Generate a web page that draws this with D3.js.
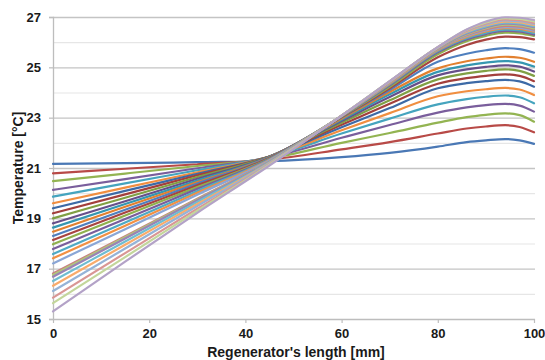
<!DOCTYPE html>
<html>
<head>
<meta charset="utf-8">
<script src="https://cdn.jsdelivr.net/npm/d3@7"></script>
<style>
  html, body { margin: 0; padding: 0; background: #ffffff; }
  svg { display: block; }
  text { font-family: "Liberation Sans", Arial, sans-serif; }
</style>
</head>
<body>
<svg id="chart" width="545" height="360"></svg>
<script>
// ---- data ----
const positions = [0, 15, 30, 45, 60, 70, 80, 86, 90, 94, 97, 100];

const s1  = [21.16, 21.19, 21.23, 21.27, 21.43, 21.60, 21.85, 22.03, 22.10, 22.15, 22.10, 21.96];
const s2  = [20.79, 20.97, 21.15, 21.33, 21.74, 22.03, 22.37, 22.57, 22.65, 22.70, 22.63, 22.42];
const s3  = [20.48, 20.78, 21.08, 21.38, 22.00, 22.39, 22.80, 23.02, 23.11, 23.17, 23.10, 22.84];
const s4  = [20.13, 20.56, 20.99, 21.42, 22.20, 22.71, 23.20, 23.41, 23.50, 23.55, 23.48, 23.24];
const s5  = [19.86, 20.39, 20.91, 21.44, 22.37, 22.96, 23.53, 23.74, 23.83, 23.88, 23.81, 23.57];
const s6  = [19.60, 20.22, 20.83, 21.45, 22.50, 23.18, 23.85, 24.05, 24.13, 24.18, 24.12, 23.90];
const s7  = [19.40, 20.09, 20.77, 21.46, 22.62, 23.38, 24.17, 24.37, 24.45, 24.50, 24.44, 24.23];
const s8  = [19.20, 19.95, 20.71, 21.46, 22.72, 23.55, 24.35, 24.57, 24.66, 24.72, 24.66, 24.45];
const s9  = [19.00, 19.82, 20.64, 21.46, 22.80, 23.69, 24.52, 24.76, 24.86, 24.92, 24.86, 24.66];
const s10 = [18.80, 19.68, 20.57, 21.45, 22.87, 23.82, 24.68, 24.92, 25.02, 25.08, 25.03, 24.83];
const s11 = [18.63, 19.57, 20.50, 21.44, 22.92, 23.93, 24.82, 25.08, 25.19, 25.25, 25.20, 25.03];
const s12 = [18.47, 19.46, 20.44, 21.43, 22.96, 24.02, 24.96, 25.24, 25.35, 25.42, 25.38, 25.22];
const s13 = [18.30, 19.34, 20.38, 21.42, 23.00, 24.10, 25.22, 25.54, 25.68, 25.76, 25.72, 25.58];
const s14 = [18.14, 19.23, 20.31, 21.40, 23.02, 24.17, 25.40, 25.89, 26.10, 26.22, 26.20, 26.11];
const s15 = [17.97, 19.11, 20.24, 21.38, 23.04, 24.23, 25.52, 26.04, 26.25, 26.38, 26.35, 26.25];
const s16 = [17.78, 18.97, 20.17, 21.36, 23.05, 24.28, 25.60, 26.11, 26.32, 26.45, 26.42, 26.30];
const s17 = [17.58, 18.83, 20.09, 21.34, 23.06, 24.32, 25.65, 26.16, 26.37, 26.50, 26.47, 26.36];
const s18 = [17.41, 18.71, 20.02, 21.32, 23.07, 24.35, 25.69, 26.21, 26.43, 26.56, 26.53, 26.42];
const s19 = [17.21, 18.57, 19.94, 21.30, 23.07, 24.38, 25.72, 26.25, 26.47, 26.60, 26.57, 26.46];
const s20 = [16.81, 18.29, 19.78, 21.26, 23.07, 24.40, 25.74, 26.29, 26.51, 26.65, 26.62, 26.50];
const s21 = [16.75, 18.25, 19.75, 21.25, 23.08, 24.41, 25.76, 26.32, 26.56, 26.70, 26.67, 26.55];
const s22 = [16.68, 18.20, 19.72, 21.24, 23.08, 24.42, 25.77, 26.35, 26.59, 26.74, 26.71, 26.60];
const s23 = [16.51, 18.08, 19.65, 21.22, 23.08, 24.43, 25.78, 26.38, 26.63, 26.78, 26.75, 26.64];
const s24 = [16.32, 17.95, 19.57, 21.20, 23.08, 24.43, 25.79, 26.41, 26.67, 26.82, 26.79, 26.68];
const s25 = [16.11, 17.80, 19.49, 21.18, 23.08, 24.44, 25.80, 26.44, 26.70, 26.86, 26.83, 26.72];
const s26 = [15.85, 17.62, 19.38, 21.15, 23.08, 24.44, 25.80, 26.46, 26.74, 26.90, 26.87, 26.76];
const s27 = [15.63, 17.46, 19.30, 21.13, 23.08, 24.45, 25.80, 26.49, 26.78, 26.95, 26.92, 26.82];
const s28 = [15.30, 17.28, 19.22, 21.10, 23.08, 24.45, 25.80, 26.50, 26.82, 26.99, 26.97, 26.88];

const seriesValues = [s1, s2, s3, s4, s5, s6, s7, s8, s9, s10, s11, s12, s13, s14,
                      s15, s16, s17, s18, s19, s20, s21, s22, s23, s24, s25, s26, s27, s28];

const seriesColors = [
  "#4A78B5", "#B84A47", "#93B452", "#7A5E9C", "#45A4BE", "#F08E40",
  "#3D6AA6", "#A33F3C", "#80A044", "#674F8A", "#3597B1", "#E2802F",
  "#4F7FBE", "#A84441", "#8FB04E", "#7A5E9C", "#4FAAC4", "#F29043",
  "#8AA6D6", "#C98280", "#AFC97A", "#9983B5", "#6FBDD1", "#F9AB6B",
  "#95B3D7", "#D99694", "#C3D69B", "#B3A2C7"
];

const xTicks = [0, 20, 40, 60, 80, 100];
const yTicks = [15, 17, 19, 21, 23, 25, 27];
const yMinor = [16, 18, 20, 22, 24, 26];
const xTitle = "Regenerator's length [mm]";
const yTitle = "Temperature [°C]";

// ---- drawing ----
const svg = d3.select("#chart");
const x = d3.scaleLinear().domain([0, 100]).range([53, 534]);
const y = d3.scaleLinear().domain([15, 27]).range([319, 17]);

// minor gridlines
svg.append("g").selectAll("line").data(yMinor).join("line")
  .attr("x1", x(0)).attr("x2", 535)
  .attr("y1", d => y(d) + 0.5).attr("y2", d => y(d) + 0.5)
  .attr("stroke", "#E6E6E6").attr("stroke-width", 1.2);

// major gridlines
svg.append("g").selectAll("line").data(yTicks.filter(d => d > 15)).join("line")
  .attr("x1", x(0)).attr("x2", 535)
  .attr("y1", d => y(d) + 0.5).attr("y2", d => y(d) + 0.5)
  .attr("stroke", "#C4C4C4").attr("stroke-width", 1.3);

// y axis
const yAxis = svg.append("g")
  .attr("transform", `translate(${x(0)},0)`)
  .call(d3.axisLeft(y).tickValues(yTicks).tickSize(4).tickPadding(8).tickFormat(d3.format("d")));
yAxis.select(".domain").attr("stroke", "#BDBDBD").attr("stroke-width", 1.3);
yAxis.selectAll(".tick line").attr("stroke", "#BDBDBD").attr("stroke-width", 1.2);
yAxis.selectAll("text").attr("font-size", 13).attr("font-weight", "bold").attr("fill", "#1a1a1a");

// x axis
const xAxis = svg.append("g")
  .attr("transform", `translate(0,${y(15)})`)
  .call(d3.axisBottom(x).tickValues(xTicks).tickSize(4).tickPadding(6).tickFormat(d3.format("d")));
xAxis.select(".domain").attr("stroke", "#BDBDBD").attr("stroke-width", 1.3)
  .attr("d", `M${x(0)},0.5H535`);
xAxis.selectAll(".tick line").attr("stroke", "#BDBDBD").attr("stroke-width", 1.2);
xAxis.selectAll("text").attr("font-size", 13).attr("font-weight", "bold").attr("fill", "#1a1a1a");

// lines
const line = d3.line()
  .x((d, i) => x(positions[i]))
  .y(d => y(d))
  .curve(d3.curveMonotoneX);

svg.append("g").selectAll("path").data(seriesValues).join("path")
  .attr("d", d => line(d))
  .attr("fill", "none")
  .attr("stroke", (d, i) => seriesColors[i])
  .attr("stroke-width", 2.2)
  .attr("stroke-linejoin", "round")
  .attr("stroke-linecap", "round");

// titles
svg.append("text")
  .attr("x", 296).attr("y", 357)
  .attr("text-anchor", "middle")
  .attr("font-size", 14).attr("font-weight", "bold").attr("fill", "#1a1a1a")
  .text(xTitle);

svg.append("text")
  .attr("transform", "translate(23,168) rotate(-90)")
  .attr("text-anchor", "middle")
  .attr("font-size", 14).attr("font-weight", "bold").attr("fill", "#1a1a1a")
  .text(yTitle);
</script>
</body>
</html>
